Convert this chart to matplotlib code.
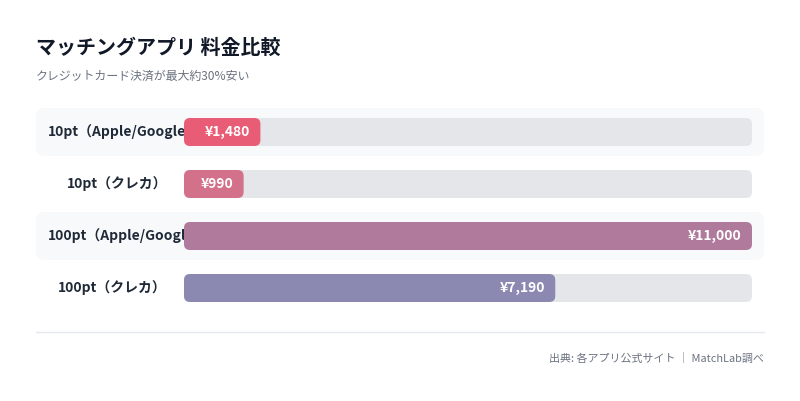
import matplotlib
matplotlib.use("Agg")
import matplotlib.pyplot as plt
from matplotlib.patches import FancyBboxPatch

plt.rcParams['font.family'] = ['Noto Sans CJK JP', 'DejaVu Sans']

# data
labels = ['10pt（Apple/Google）', '10pt（クレカ）', '100pt（Apple/Google）', '100pt（クレカ）']
prices = [1480, 990, 11000, 7190]
value_texts = ['¥1,480', '¥990', '¥11,000', '¥7,190']
colors = ['#e85d75', '#d4718a', '#b07a9c', '#8b89b2']
title = 'マッチングアプリ 料金比較'
subtitle = 'クレジットカード決済が最大約30%安い'
source = '出典: 各アプリ公式サイト ｜ MatchLab調べ'

W, H = 800, 401
fig = plt.figure(figsize=(W / 100, H / 100), dpi=100)
fig.patch.set_facecolor('white')

def fx(px):
    return px / W

def fy(py):
    return 1 - py / H

n = len(labels)
row_h = 52
top = 106
bottom = top + row_h * n
xmax = max(prices)
min_frac = 0.105  # short bars keep room for their label

# background panel (row stripes + labels)
bg = fig.add_axes([fx(36), fy(bottom), fx(764 - 36), (bottom - top) / H])
bg.set_xlim(0, 1)
bg.set_ylim(n - 0.5, -0.5)
bg.axis('off')
bg_wpx = 764 - 36
for i in range(n):
    if i % 2 == 0:
        asp = (1 / row_h) / (1 / bg_wpx)
        p = FancyBboxPatch((0, i - 24 / row_h), 1, 48 / row_h,
                           boxstyle='round,pad=0,rounding_size=%f' % (8 / bg_wpx),
                           mutation_aspect=asp, fc='#f8f9fb', ec='none')
        bg.add_patch(p)

# labels, right aligned; long ones start at the left padding and run under the bars
fig.canvas.draw()
r = fig.canvas.get_renderer()
for i, lab in enumerate(labels):
    t = bg.text((167 - 36) / bg_wpx, i, lab, ha='right', va='center',
                fontsize=10, fontweight='bold', color='#1f2937')
    ext = t.get_window_extent(renderer=r)
    if ext.x0 < 48:
        t.set_ha('left')
        t.set_x(12 / bg_wpx)

# bar axes
ax = fig.add_axes([fx(184), fy(bottom), fx(752 - 184), (bottom - top) / H])
ax.set_xlim(0, xmax)
ax.set_ylim(n - 0.5, -0.5)
ax.axis('off')
ax.patch.set_alpha(0)
ax_wpx = 752 - 184
x_per_px = xmax / ax_wpx
asp = (1 / row_h) / x_per_px
bh = 28 / row_h
rad = 6 * x_per_px
for i, v in enumerate(prices):
    track = FancyBboxPatch((0, i - bh / 2), xmax, bh,
                           boxstyle='round,pad=0,rounding_size=%f' % rad,
                           mutation_aspect=asp, fc='#e5e6ea', ec='none')
    ax.add_patch(track)
    w = max(v, xmax * min_frac)
    bar = FancyBboxPatch((0, i - bh / 2), w, bh,
                         boxstyle='round,pad=0,rounding_size=%f' % rad,
                         mutation_aspect=asp, fc=colors[i], ec='none')
    ax.add_patch(bar)
    ax.text(w - 10 * x_per_px, i, value_texts[i], ha='right', va='center',
            fontsize=10, fontweight='bold', color='white')

# titles
fig.text(fx(36), fy(47), title, ha='left', va='center', fontsize=14.4,
         fontweight='bold', color='#111827')
fig.text(fx(36), fy(76), subtitle, ha='left', va='center', fontsize=8.6,
         color='#6b7280')

# divider and source
fig.add_artist(plt.Line2D([fx(36), fx(764)], [fy(332), fy(332)], color='#e5e7eb', lw=1))
fig.text(fx(764), fy(359), source, ha='right', va='center', fontsize=7.9,
         color='#6b7280')

fig.savefig('out.png', dpi=100, facecolor='white')
